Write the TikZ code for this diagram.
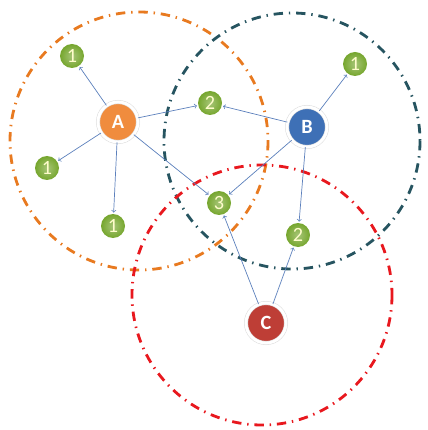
\documentclass[tikz,border=0pt]{standalone}
\usepackage{fontspec}
\setsansfont{Carlito}
\usepackage{xcolor}
\usepackage{tikz}
\usetikzlibrary{arrows, shadows}

\definecolor{rangeA}{RGB}{232,122,32}
\definecolor{rangeB}{RGB}{38,84,96}
\definecolor{rangeC}{RGB}{232,24,30}
\definecolor{fillA}{RGB}{240,140,62}
\definecolor{fillB}{RGB}{62,112,182}
\definecolor{fillC}{RGB}{190,62,54}
\definecolor{fillN}{RGB}{118,166,46}
\definecolor{linkcol}{RGB}{92,128,188}

\begin{document}
\begin{tikzpicture}[x=0.03cm, y=-0.03cm,
    coverage/.style={line width=2.4pt, dash pattern=on 8pt off 5pt on 1.2pt off 5pt},
    head/.style={circle, draw=gray!25, double=white, double distance=2.4pt, line width=0.5pt,
      minimum size=1.2cm, inner sep=0pt,
      drop shadow={shadow xshift=0.6pt, shadow yshift=-1pt, opacity=0.2},
      font=\sffamily\bfseries\LARGE, text=white},
    member/.style={circle, minimum size=0.72cm, inner sep=0pt, inner color=fillN!65!white, outer color=fillN,
      font=\sffamily\LARGE, text=yellow!20},
    link/.style={->, >=to, linkcol, line width=0.6pt, shorten >=1pt}
  ]
  \useasboundingbox (0,0) rectangle (427,430);

  % --- transmission ranges ---
  \draw[coverage, rangeA] (139,141) circle (129);
  \draw[coverage, rangeB] (292,141) circle (128);
  \draw[coverage, rangeC] (262,295) circle (130);

  % --- cluster heads ---
  \node[head, fill=fillA] (A) at (118,122) {A};
  \node[head, fill=fillB] (B) at (307,127) {B};
  \node[head, fill=fillC] (C) at (266,323) {C};

  % --- member nodes, labelled by hop count ---
  \node[member] (a1) at (72,56) {1};
  \node[member] (a2) at (47,168) {1};
  \node[member] (a3) at (113,226) {1};
  \node[member] (b1) at (355,64) {1};
  \node[member] (s1) at (210,103) {2};
  \node[member] (s2) at (298,235) {2};
  \node[member] (t1) at (219,203) {3};

  % --- links ---
  \draw[link] (A) -- (a1);
  \draw[link] (A) -- (a2);
  \draw[link] (A) -- (a3);
  \draw[link] (A) -- (s1);
  \draw[link] (A) -- (t1);
  \draw[link] (B) -- (s1);
  \draw[link] (B) -- (b1);
  \draw[link] (B) -- (t1);
  \draw[link] (B) -- (s2);
  \draw[link] (C) -- (t1);
  \draw[link] (C) -- (s2);
\end{tikzpicture}
\end{document}
